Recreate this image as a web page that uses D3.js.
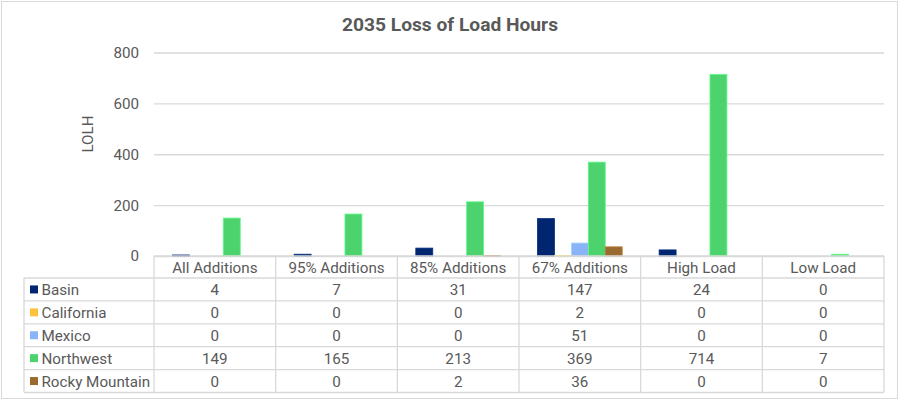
<!DOCTYPE html>
<html><head><meta charset="utf-8">
<script src="https://cdn.jsdelivr.net/npm/d3@7"></script>
<style>
body{margin:0;background:#fff;}
svg text{font-family:Roboto,"Noto Sans",sans-serif;fill:#595959;}
</style></head>
<body>
<svg id="c" width="900" height="401"></svg>
<script>
const title = "2035 Loss of Load Hours";
const yTitle = "LOLH";
const categories = ["All Additions","95% Additions","85% Additions","67% Additions","High Load","Low Load"];
const seriesNames = ["Basin","California","Mexico","Northwest","Rocky Mountain"];
const seriesColors = ["#01256e","#ffc23e","#8ab4f8","#4cd36e","#9a6a2e"];
const basin = [4,7,31,147,24,0];
const california = [0,0,0,2,0,0];
const mexico = [0,0,0,51,0,0];
const northwest = [149,165,213,369,714,7];
const rockyMountain = [0,0,2,36,0,0];
const yTicks = [0,200,400,600,800];

(function(){
const seriesValues = [basin,california,mexico,northwest,rockyMountain];
const svg = d3.select("#c");
const fs = "15.2px";

svg.append("rect").attr("x",1.5).attr("y",1.5).attr("width",896).attr("height",397)
  .attr("fill","#fff").attr("stroke","#d9d9d9").attr("stroke-width",1);

const pL=154, pR=884, pT=52.5, pB=256;
const x = d3.scaleBand().domain(categories).range([pL,pR]).paddingInner(0).paddingOuter(0);
const inner = d3.scaleBand().domain(seriesNames).range([0,x.bandwidth()]).paddingOuter(1.09).paddingInner(0);
const y = d3.scaleLinear().domain([0,800]).range([pB,pT]);

svg.append("text").attr("x",450).attr("y",31).attr("text-anchor","middle")
  .style("font-size","19.2px").style("font-weight","bold").text(title);

const yAxis = d3.axisLeft(y).tickValues(yTicks).tickSize(-(pR-pL)).tickPadding(15).tickFormat(d3.format("d"));
const ga = svg.append("g").attr("transform",`translate(${pL},0)`).call(yAxis);
ga.select(".domain").remove();
ga.selectAll(".tick line").attr("stroke","#d9d9d9").attr("stroke-width",1.3);
ga.selectAll(".tick text").style("font-size",fs).attr("fill","#595959");

svg.append("text").attr("transform","translate(93,134) rotate(-90)").attr("text-anchor","middle")
  .style("font-size",fs).text(yTitle);

seriesNames.forEach((s,i)=>{
  svg.append("g").selectAll("rect").data(seriesValues[i]).join("rect")
    .attr("x",(d,j)=>x(categories[j])+inner(s))
    .attr("y",d=>y(d))
    .attr("width",inner.bandwidth())
    .attr("height",d=>y(0)-y(d))
    .attr("fill",seriesColors[i])
    .attr("stroke",d3.color(seriesColors[i]).brighter(0.5))
    .attr("stroke-width",d=>d>0?0.8:0);
});

const rowH = 22.9, headerH = 22, tableLeft = 24;
const rowTop = pB + headerH;
const tableBottom = rowTop + rowH*seriesNames.length;
const lc = "#d9d9d9";
const tg = svg.append("g");
tg.append("line").attr("x1",pL).attr("x2",pR).attr("y1",pB).attr("y2",pB).attr("stroke",lc).attr("stroke-width",1.3);
for(let r=0;r<=seriesNames.length;r++){
  const yy=rowTop+r*rowH;
  tg.append("line").attr("x1",tableLeft).attr("x2",pR).attr("y1",yy).attr("y2",yy).attr("stroke",lc).attr("stroke-width",1.3);
}
tg.append("line").attr("x1",tableLeft).attr("x2",tableLeft).attr("y1",rowTop).attr("y2",tableBottom).attr("stroke",lc).attr("stroke-width",1.3);
categories.forEach(c=>{
  tg.append("line").attr("x1",x(c)).attr("x2",x(c)).attr("y1",pB).attr("y2",tableBottom).attr("stroke",lc).attr("stroke-width",1.3);
});
tg.append("line").attr("x1",pR).attr("x2",pR).attr("y1",pB).attr("y2",tableBottom).attr("stroke",lc).attr("stroke-width",1.3);

categories.forEach(c=>{
  tg.append("text").attr("x",x(c)+x.bandwidth()/2).attr("y",pB+headerH/2+5.5)
    .attr("text-anchor","middle").style("font-size",fs).text(c);
});
seriesNames.forEach((s,i)=>{
  const cy = rowTop + i*rowH + rowH/2;
  tg.append("rect").attr("x",30).attr("y",cy-4).attr("width",8).attr("height",8).attr("fill",seriesColors[i]);
  tg.append("text").attr("x",41.5).attr("y",cy+5.5).style("font-size",fs).text(s);
  seriesValues[i].forEach((v,j)=>{
    tg.append("text").attr("x",x(categories[j])+x.bandwidth()/2).attr("y",cy+5.5)
      .attr("text-anchor","middle").style("font-size",fs).text(v);
  });
});
})();
</script>
</body></html>
